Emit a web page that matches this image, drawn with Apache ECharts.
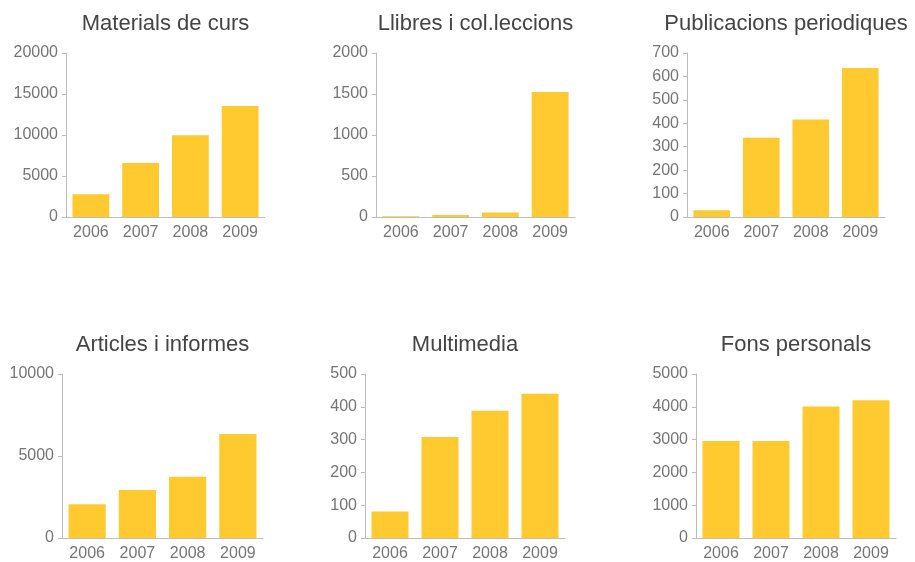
<!DOCTYPE html>
<html><head><meta charset="utf-8">
<script src="https://cdn.jsdelivr.net/npm/echarts@6/dist/echarts.min.js"></script>
<style>html,body{margin:0;padding:0;background:#fff}#c{width:915px;height:562px}</style>
</head><body><div id="c"></div>
<script>
const categories = ['2006', '2007', '2008', '2009'];
const titles = ['Materials de curs', 'Llibres i col.leccions', 'Publicacions periodiques', 'Articles i informes', 'Multimedia', 'Fons personals'];
const materialsDeCurs = [2780, 6600, 9970, 13550];
const llibres = [10, 25, 55, 1525];
const publicacions = [29, 338, 416, 636];
const articles = [2060, 2930, 3740, 6340];
const multimedia = [81, 308, 388, 440];
const fonsPersonals = [2960, 2960, 4010, 4200];
const axisMax = [20000, 2000, 700, 10000, 500, 5000];
const axisInterval = [5000, 500, 100, 5000, 100, 1000];
const seriesValues = [materialsDeCurs, llibres, publicacions, articles, multimedia, fonsPersonals];

const grids = [
  {left: 66, top: 53, width: 199, height: 164},
  {left: 376, top: 53, width: 199, height: 164},
  {left: 687, top: 53, width: 198, height: 164},
  {left: 62, top: 374, width: 201, height: 165},
  {left: 365, top: 374, width: 200, height: 165},
  {left: 696, top: 374, width: 200, height: 165}
];
const FONT = 'Liberation Sans, Arial, Helvetica, sans-serif';
const axisColor = '#bdbdbd';
const labelColor = '#757575';

const option = {
  animation: false,
  backgroundColor: '#fff',
  title: grids.map((g, i) => ({
    text: titles[i],
    left: g.left + g.width / 2,
    top: g.top - 40,
    textAlign: 'center',
    padding: 0,
    textStyle: {fontFamily: FONT, fontSize: 22, fontWeight: 'normal', color: '#444'}
  })),
  grid: grids.map(g => Object.assign({containLabel: false}, g)),
  xAxis: grids.map((g, i) => ({
    type: 'category', gridIndex: i, data: categories,
    axisLine: {lineStyle: {color: axisColor, width: 1}},
    axisTick: {alignWithLabel: true, length: 4, lineStyle: {color: axisColor}},
    axisLabel: {fontFamily: FONT, fontSize: 16, color: labelColor, margin: 8}
  })),
  yAxis: grids.map((g, i) => ({
    type: 'value', gridIndex: i, min: 0, max: axisMax[i], interval: axisInterval[i],
    axisLine: {show: true, lineStyle: {color: axisColor, width: 1}},
    axisTick: {show: true, length: 4, lineStyle: {color: axisColor}},
    splitLine: {show: false},
    axisLabel: {fontFamily: FONT, fontSize: 16, color: labelColor, margin: 8, formatter: v => String(v)}
  })),
  series: seriesValues.map((vals, i) => ({
    type: 'bar', xAxisIndex: i, yAxisIndex: i, data: vals,
    barCategoryGap: '26%',
    itemStyle: {color: '#ffca2f'}
  }))
};
const chart = echarts.init(document.getElementById('c'), null, {renderer: 'canvas'});
chart.setOption(option);
</script></body></html>
